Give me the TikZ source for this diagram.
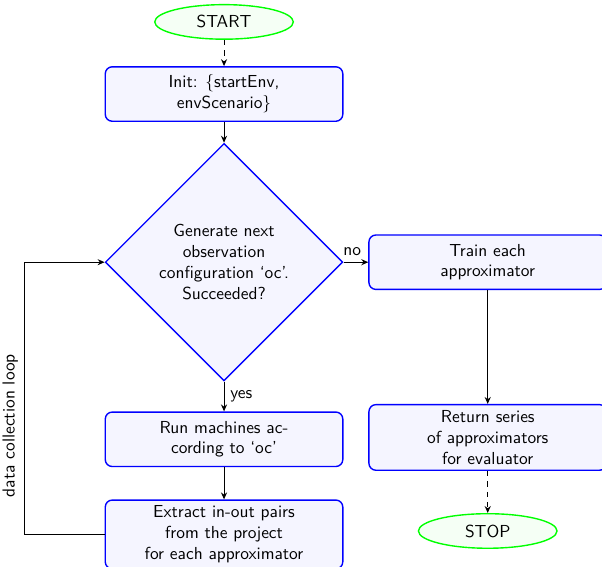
\documentclass[tikz,border=0pt]{standalone}
\usepackage{tikz}
\usetikzlibrary{positioning,arrows.meta,shapes.geometric}

\begin{document}
\begin{tikzpicture}[
    font=\sffamily,
    terminal/.style={ellipse, draw=green, fill=green!4, thick, minimum width=2.8cm, minimum height=0.6cm},
    process/.style={rectangle, rounded corners=4pt, draw=blue, fill=blue!4, thick, minimum width=4.8cm, minimum height=1.1cm, align=center},
    decision/.style={diamond, draw=blue, fill=blue!4, thick, minimum width=4.8cm, minimum height=4.8cm, inner sep=0pt, align=center},
    arr/.style={-{Stealth[length=4pt,width=3.5pt]}, semithick}
]
\path[use as bounding box] (-128.8pt,12.6pt) rectangle (217.3pt,-313.3pt);

\node[terminal] (start) {START};
\node[process, below=0.53cm of start] (init) {Init: \{startEnv,\\envScenario\}};
\node[decision, below=0.42cm of init] (gen) {Generate next\\observation\\configuration `oc'.\\Succeeded?};
\node[process, below=0.6cm of gen] (run) {Run machines ac-\\cording to `oc'};
\node[process, below=0.65cm of run] (extract) {Extract in-out pairs\\from the project\\for each approximator};
\node[process, right=0.5cm of gen] (train) {Train each\\approximator};
\node[process, below=2.3cm of train] (ret) {Return series\\of approximators\\for evaluator};
\node[terminal, below=0.85cm of ret] (stop) {STOP};
\coordinate[left=1.62cm of extract.west] (loopend);

\draw[arr, dashed] (start) -- (init);
\draw[arr] (init) -- (gen);
\draw[arr] (gen) -- node[right]{yes} (run);
\draw[arr] (run) -- (extract);
\draw[arr] (gen) -- node[above, pos=0.35]{no} (train);
\draw[arr] (train) -- (ret);
\draw[arr, dashed] (ret) -- (stop);
\draw[arr] (extract.west) -- (loopend) |- node[pos=0.2, rotate=90, above]{data collection loop} (gen.west);
\end{tikzpicture}
\end{document}
